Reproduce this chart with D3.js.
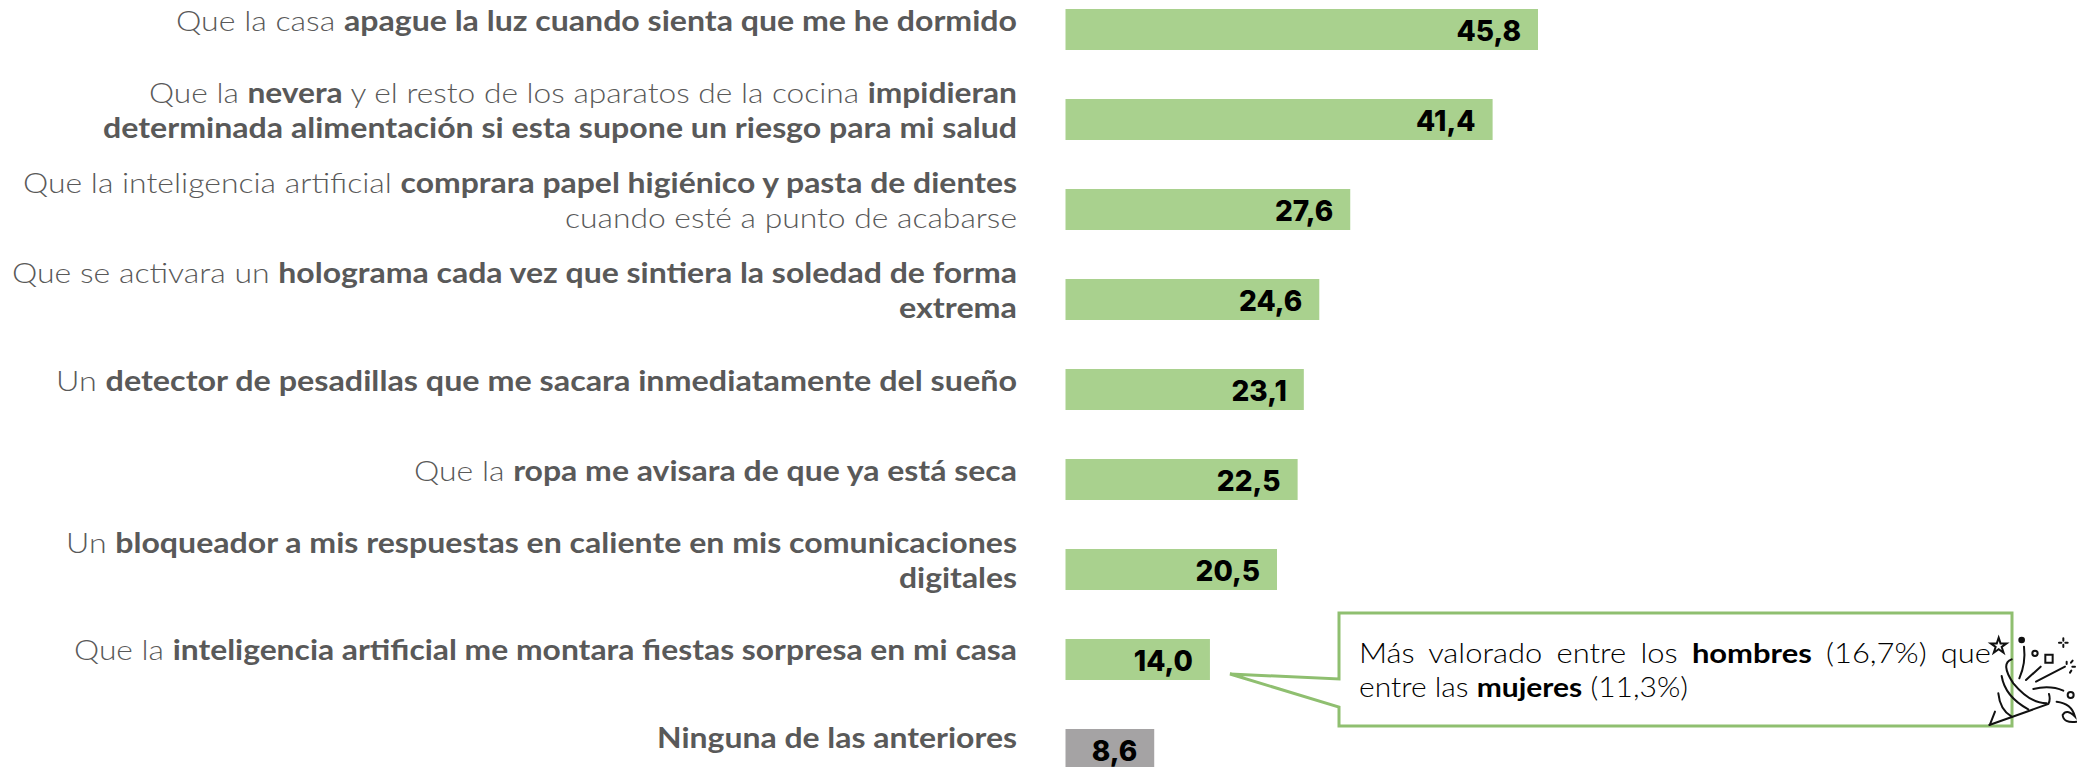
<!DOCTYPE html>
<html><head><meta charset="utf-8">
<script src="https://cdn.jsdelivr.net/npm/d3@7"></script>
<style>
html,body{margin:0;padding:0;background:#fff;overflow:hidden}
text{font-family:Lato,"Open Sans",sans-serif}
</style></head><body><svg id="c" width="2077" height="767"></svg>
<script>
const values=[45.8,41.4,27.6,24.6,23.1,22.5,20.5,14.0,8.6];
const categories=["a","b","c","d","e","f","g","h","i"];
const barColors=["#a9d18e","#a9d18e","#a9d18e","#a9d18e","#a9d18e","#a9d18e","#a9d18e","#a9d18e","#a5a3a4"];
const labelLines=[
 [[["Que la casa ",0],["apague la luz cuando sienta que me he dormido",1]]],
 [[["Que la ",0],["nevera",1],[" y el resto de los aparatos de la cocina ",0],["impidieran",1]],
  [["determinada alimentación si esta supone un riesgo para mi salud",1]]],
 [[["Que la inteligencia artificial ",0],["comprara papel higiénico y pasta de dientes",1]],
  [["cuando esté a punto de acabarse",0]]],
 [[["Que se activara un ",0],["holograma cada vez que sintiera la soledad de forma",1]],
  [["extrema",1]]],
 [[["Un ",0],["detector de pesadillas que me sacara inmediatamente del sueño",1]]],
 [[["Que la ",0],["ropa me avisara de que ya está seca",1]]],
 [[["Un ",0],["bloqueador a mis respuestas en caliente en mis comunicaciones",1]],
  [["digitales",1]]],
 [[["Que la ",0],["inteligencia artificial me montara fiestas sorpresa en mi casa",1]]],
 [[["Ninguna de las anteriores",1]]]
];
const lineWidths=[[841],[868,914],[994,452],[1005,118],[961],[603],[951,118],[943],[360]];
const labelNudge=[1,0,0,0,1,1,0,0,-2];
const noteLines=[[["Más valorado entre los ",0],["hombres",1],[" (16,7%) que",0]],[["entre las ",0],["mujeres",1],[" (11,3%)",0]]];
const noteWidths=[632,329];
const noteWordGaps=[5,0];
const fmt=d3.format(".1f");
const svg=d3.select("#c");
const x=d3.scaleLinear().domain([0,45.8]).range([1065.5,1538]);
const y=d3.scalePoint().domain(categories).range([9,729]);
const bw=41;
svg.selectAll("rect.bar").data(values).join("rect").attr("class","bar")
 .attr("x",x(0)).attr("y",(d,i)=>y(categories[i])).attr("width",d=>x(d)-x(0)).attr("height",bw)
 .attr("fill",(d,i)=>barColors[i]);
svg.selectAll("text.val").data(values).join("text").attr("class","val")
 .attr("x",d=>x(d)-17).attr("y",(d,i)=>y(categories[i])+32).attr("text-anchor","end")
 .attr("font-size",28).attr("fill","#000")
 .style("font-family","Inter").style("font-weight",800)
 .text(d=>fmt(d).replace(".",","));
function writeLine(g,segs,xp,yp,w,size,color,anchor,gap){
 const t=g.append("text").attr("x",xp).attr("y",yp).attr("text-anchor",anchor).attr("font-size",size).attr("fill",color)
  .style("word-spacing",(gap||0)+"px")
  .attr("textLength",w).attr("lengthAdjust","spacingAndGlyphs");
 segs.forEach(s=>t.append("tspan").attr("font-weight",s[1]?700:300).text(s[0]));
}
const g=svg.append("g");
labelLines.forEach((ls,i)=>{
 const c=y(categories[i]);
 const base=(ls.length===1?c+21:c+4)+labelNudge[i];
 ls.forEach((segs,j)=>writeLine(g,segs,1017,base+j*34.5,lineWidths[i][j],28,"#595959","end",0));
});
// callout
const line=d3.line();
svg.append("path").attr("d",line([[1339,613],[2012,613],[2012,726],[1339,726],[1339,707],[1230,674],[1339,679]])+"Z")
 .attr("fill","#fff").attr("stroke","#8fbf70").attr("stroke-width",3);
noteLines.forEach((segs,j)=>writeLine(svg,segs,1359,663+j*34,noteWidths[j],26.5,"#000","start",noteWordGaps[j]));
// party icon
const ic=svg.append("g").attr("transform","translate(1950,620) scale(0.3333)").attr("fill","none").attr("stroke","#111").attr("stroke-width",6).attr("stroke-linecap","round");
["M118 315L295 252Q302 240 297 222","M120 313L135 275","M145 220Q150 270 185 290","M155 168Q165 230 235 268","M185 118Q150 130 190 190Q240 250 290 250",
 "M222 80Q228 130 208 175","M272 140L228 180","M345 140L258 185","M250 207Q300 195 340 212","M320 245Q365 250 375 290Q350 265 338 285Q340 310 380 305",
 "M340 55V62M340 74V81M327 68H334M346 68H353","M350 125V132M368 122L363 128M375 140H367M360 158L364 152","M286 104H308V128H286Z"
].forEach(d=>ic.append("path").attr("d",d));
ic.append("path").attr("transform","translate(146,78)").attr("d",d3.symbol(d3.symbolStar,700)());
ic.append("circle").attr("cx",215).attr("cy",60).attr("r",7).attr("fill","#111");
ic.append("circle").attr("cx",255).attr("cy",100).attr("r",8);
ic.append("circle").attr("cx",362).attr("cy",225).attr("r",9);
</script></body></html>
